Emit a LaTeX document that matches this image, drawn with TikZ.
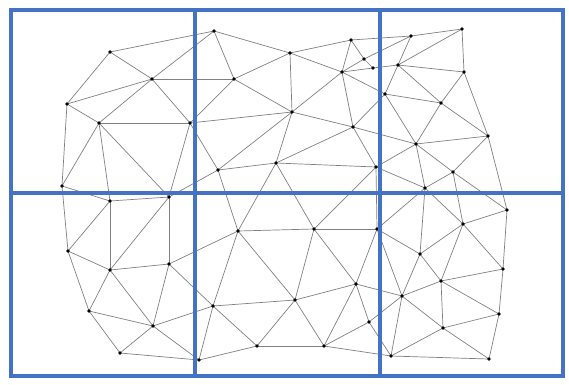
\documentclass[tikz,border=0pt]{standalone}
\definecolor{gridblue}{HTML}{4472C4}
\tikzset{
  mesh/.style={draw=black!50, line width=0.7pt},
  vertex/.style={fill=black},
  cell/.style={draw=gridblue, line width=3.8pt}
}
\begin{document}
\begin{tikzpicture}[x=1pt,y=-1pt]
	\useasboundingbox (0,0) rectangle (569,384);
	% mesh vertices
	\foreach \n/\px/\py in {1/110/52, 2/152/79, 3/67/104, 4/99/123, 5/190/123, 6/62/186, 7/169/197,
		8/214/31, 9/234/79, 10/290/53, 11/351/40, 12/364/59, 13/373/68, 14/342/72,
		15/292/112, 16/353/127, 17/218/170, 18/276/163, 19/376/167,
		20/462/29, 21/411/36, 22/398/65, 23/464/72, 24/385/94, 25/441/103,
		26/488/136, 27/416/144, 28/453/172, 29/425/188,
		30/110/201, 31/68/251, 32/110/270, 33/169/264, 34/89/311, 35/153/326, 36/120/353, 37/199/360,
		38/238/231, 39/314/229, 40/377/229, 41/356/284, 42/295/300, 43/213/306,
		44/369/322, 45/257/346, 46/324/346, 47/391/356,
		48/507/210, 49/463/224, 50/420/254, 51/503/269, 52/441/281, 53/402/296,
		54/499/314, 55/443/328, 56/489/359}
		\coordinate (p\n) at (\px,\py);
	% edges
	\foreach \a/\b in {1/2, 1/3, 1/8, 2/3, 2/4, 2/5, 2/8, 2/9, 3/4, 3/6,
		4/5, 4/6, 4/7, 4/30, 5/7, 5/9, 5/15, 5/17, 6/30, 6/31,
		7/17, 7/30, 7/32, 7/33, 8/9, 8/10, 9/10, 9/15, 10/11, 10/14, 10/15,
		11/12, 11/14, 11/21, 12/13, 12/14, 12/21, 13/14, 13/22,
		14/15, 14/16, 14/24, 15/16, 15/17, 15/18, 16/18, 16/19, 16/24, 16/27,
		17/18, 17/38, 18/19, 18/38, 18/39, 19/27, 19/29, 19/39, 19/40,
		20/21, 20/22, 20/23, 21/22, 22/23, 22/24, 22/25, 23/25, 23/26,
		24/25, 24/27, 25/26, 25/27, 26/27, 26/28, 26/48, 27/28, 27/29,
		28/29, 28/48, 28/49, 29/40, 29/49, 29/50,
		30/31, 30/32, 31/32, 31/34, 32/33, 32/34, 32/35, 33/35, 33/38, 33/43,
		34/35, 34/36, 35/36, 35/37, 35/43, 36/37, 37/43, 37/45,
		38/39, 38/42, 38/43, 39/40, 39/41, 39/42, 40/41, 40/50, 40/53,
		41/42, 41/44, 41/46, 41/53, 42/43, 42/45, 42/46, 43/45,
		44/46, 44/47, 44/53, 45/46, 46/47, 47/53, 47/55, 47/56,
		48/49, 48/51, 49/50, 49/51, 49/52, 50/52, 50/53, 51/52, 51/54,
		52/53, 52/54, 52/55, 53/55, 54/55, 54/56, 55/56}
		\draw[mesh] (p\a) -- (p\b);
	\foreach \n in {1,...,56}
		\fill[vertex] (p\n) circle (1.9);
	% grid of cells
	\coordinate (tl) at (11,10);
	\coordinate (br) at (563,376);
	\draw[cell] (tl) rectangle (br);
	\draw[cell] (195,10) -- (195,376);
	\draw[cell] (380,10) -- (380,376);
	\draw[cell] (11,193) -- (563,193);
\end{tikzpicture}
\end{document}
